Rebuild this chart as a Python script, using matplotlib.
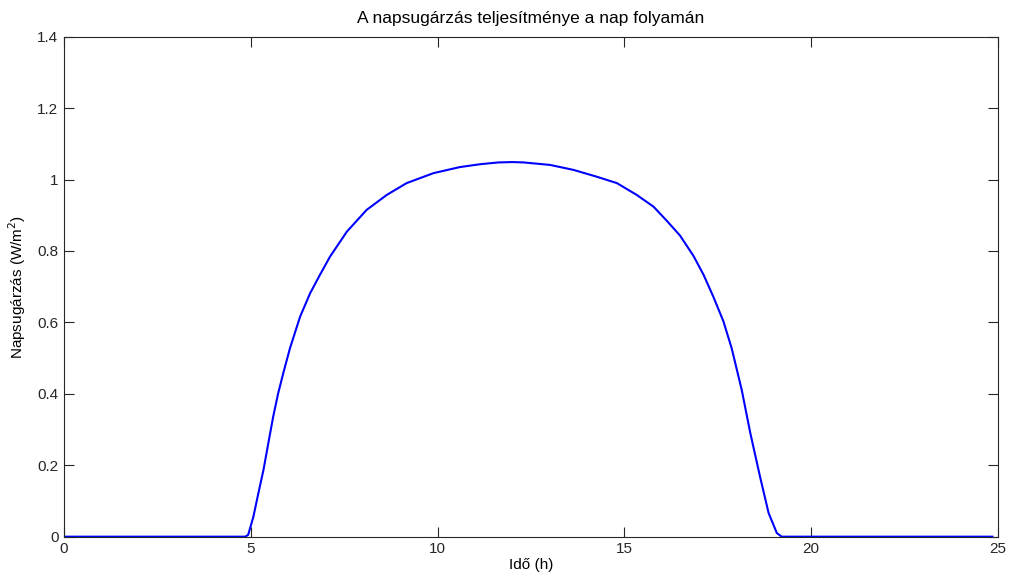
import matplotlib
matplotlib.use("Agg")
import matplotlib.pyplot as plt

plt.rcParams['font.family'] = ['Liberation Sans', 'DejaVu Sans']

# napsugárzás a nap folyamán (óra, W/m^2)
ido = [0.0, 2.0, 4.0, 4.85, 4.93, 5.07, 5.20, 5.34, 5.47, 5.60, 5.73,
       5.87, 6.05, 6.32, 6.59, 6.85, 7.12, 7.57, 8.10, 8.64, 9.17, 9.89,
       10.60, 11.14, 11.63, 12.00, 12.30, 13.01, 13.64, 14.26, 14.80,
       15.33, 15.78, 16.14, 16.49, 16.85, 17.12, 17.38, 17.65, 17.87,
       18.14, 18.37, 18.63, 18.86, 19.08, 19.21, 22.0, 24.85]
sugarzas = [0.0, 0.0, 0.0, 0.0, 0.005, 0.056, 0.120, 0.187, 0.262, 0.336,
            0.400, 0.458, 0.528, 0.616, 0.682, 0.733, 0.784, 0.854, 0.915,
            0.957, 0.990, 1.018, 1.035, 1.043, 1.048, 1.049, 1.048, 1.041,
            1.027, 1.008, 0.990, 0.957, 0.924, 0.884, 0.843, 0.786, 0.733,
            0.672, 0.603, 0.528, 0.411, 0.290, 0.168, 0.066, 0.010, 0.0,
            0.0, 0.0]

x_ticks = [0, 5, 10, 15, 20, 25]
y_ticks = [0, 0.2, 0.4, 0.6, 0.8, 1, 1.2, 1.4]
y_ticklabels = ['0', '0.2', '0.4', '0.6', '0.8', '1', '1.2', '1.4']

fig = plt.figure(figsize=(10.12, 5.81), dpi=100)
ax = fig.add_axes([0.0632, 0.0763, 0.9230, 0.8605])

ax.plot(ido, sugarzas, color='#0000ff', linewidth=1.5)

ax.set_xlim(0, 25)
ax.set_ylim(0, 1.4)
ax.set_xticks(x_ticks)
ax.set_yticks(y_ticks)
ax.set_yticklabels(y_ticklabels)
ax.tick_params(direction='in', length=7, width=0.8, top=True, right=True,
               labelsize=11, colors='#262626', pad=4)
for sp in ax.spines.values():
    sp.set_linewidth(0.8)
    sp.set_color('#262626')

ax.set_title('A napsugárzás teljesítménye a nap folyamán', fontsize=12.5, pad=10)
ax.set_xlabel('Idő (h)', fontsize=11, labelpad=1)
ax.set_ylabel('Napsugárzás (W/m$^2$)', fontsize=11, labelpad=7)

fig.savefig('out.png', dpi=100)
